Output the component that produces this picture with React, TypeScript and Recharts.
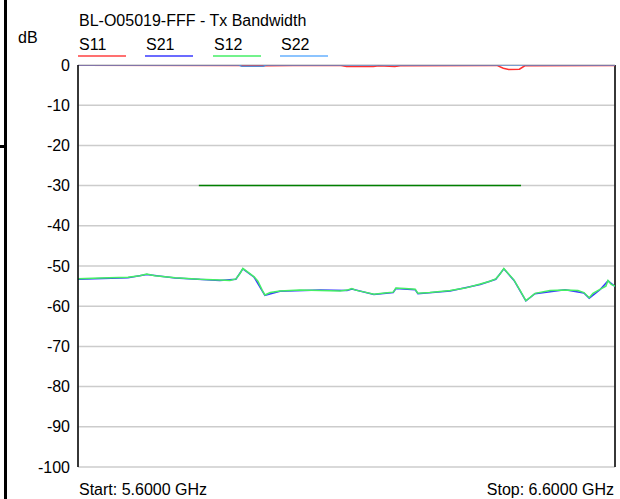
import { LineChart, Line, XAxis, YAxis, CartesianGrid, ReferenceLine } from 'recharts'

// frequency in GHz, magnitude in dB
const s12 = [
  { f: 5.6, v: -53.2 }, { f: 5.641, v: -53.0 }, { f: 5.693, v: -52.8 }, { f: 5.715, v: -52.4 },
  { f: 5.728, v: -52.0 }, { f: 5.743, v: -52.4 }, { f: 5.781, v: -52.9 }, { f: 5.827, v: -53.3 },
  { f: 5.864, v: -53.5 }, { f: 5.883, v: -53.6 }, { f: 5.894, v: -53.2 }, { f: 5.902, v: -51.8 },
  { f: 5.907, v: -50.6 }, { f: 5.917, v: -51.6 }, { f: 5.928, v: -52.7 }, { f: 5.935, v: -53.8 },
  { f: 5.943, v: -56.0 }, { f: 5.948, v: -57.2 }, { f: 5.958, v: -56.6 }, { f: 5.976, v: -56.2 },
  { f: 6.013, v: -56.0 }, { f: 6.051, v: -56.1 }, { f: 6.088, v: -56.2 }, { f: 6.101, v: -56.0 },
  { f: 6.11, v: -55.6 }, { f: 6.117, v: -56.0 }, { f: 6.134, v: -56.5 }, { f: 6.151, v: -57.0 },
  { f: 6.171, v: -56.7 }, { f: 6.187, v: -56.5 }, { f: 6.192, v: -55.5 }, { f: 6.209, v: -55.6 },
  { f: 6.228, v: -55.8 }, { f: 6.233, v: -56.8 }, { f: 6.255, v: -56.6 }, { f: 6.293, v: -56.1 },
  { f: 6.321, v: -55.5 }, { f: 6.349, v: -54.5 }, { f: 6.367, v: -53.8 }, { f: 6.378, v: -53.2 },
  { f: 6.386, v: -52.0 }, { f: 6.393, v: -50.6 }, { f: 6.402, v: -52.0 }, { f: 6.412, v: -53.5 },
  { f: 6.423, v: -56.0 }, { f: 6.434, v: -58.6 }, { f: 6.442, v: -57.8 }, { f: 6.451, v: -56.8 },
  { f: 6.479, v: -56.1 }, { f: 6.507, v: -56.0 }, { f: 6.531, v: -56.1 }, { f: 6.542, v: -56.6 },
  { f: 6.552, v: -57.9 }, { f: 6.559, v: -56.8 }, { f: 6.572, v: -55.8 }, { f: 6.583, v: -55.0 },
  { f: 6.587, v: -53.6 }, { f: 6.593, v: -54.6 }, { f: 6.6, v: -55.0 },
]

const s21 = [
  { f: 5.6, v: -53.3 }, { f: 5.693, v: -52.9 }, { f: 5.728, v: -52.1 }, { f: 5.781, v: -53.0 },
  { f: 5.864, v: -53.6 }, { f: 5.894, v: -53.3 }, { f: 5.907, v: -50.7 }, { f: 5.928, v: -52.8 },
  { f: 5.948, v: -57.3 }, { f: 5.976, v: -56.3 }, { f: 6.051, v: -56.0 }, { f: 6.101, v: -56.1 },
  { f: 6.11, v: -55.7 }, { f: 6.151, v: -57.1 }, { f: 6.187, v: -56.6 }, { f: 6.192, v: -55.6 },
  { f: 6.228, v: -55.9 }, { f: 6.233, v: -56.9 }, { f: 6.293, v: -56.2 }, { f: 6.349, v: -54.6 },
  { f: 6.378, v: -53.3 }, { f: 6.393, v: -50.7 }, { f: 6.412, v: -53.6 }, { f: 6.434, v: -58.7 },
  { f: 6.451, v: -56.9 }, { f: 6.507, v: -55.9 }, { f: 6.542, v: -56.7 }, { f: 6.552, v: -58.0 },
  { f: 6.572, v: -55.9 }, { f: 6.587, v: -53.7 }, { f: 6.6, v: -55.1 },
]

const s11 = [
  { f: 5.6, v: -0.05 }, { f: 5.9, v: -0.1 }, { f: 5.95, v: -0.2 }, { f: 6.0, v: -0.1 },
  { f: 6.09, v: -0.15 }, { f: 6.1, v: -0.4 }, { f: 6.15, v: -0.4 }, { f: 6.16, v: -0.2 },
  { f: 6.19, v: -0.4 }, { f: 6.2, v: -0.2 }, { f: 6.38, v: -0.1 }, { f: 6.392, v: -0.8 },
  { f: 6.402, v: -1.1 }, { f: 6.422, v: -1.05 }, { f: 6.432, v: -0.2 }, { f: 6.6, v: -0.1 },
]

const s22 = [
  { f: 5.6, v: 0 }, { f: 5.9, v: 0 }, { f: 5.905, v: -0.3 }, { f: 5.945, v: -0.3 },
  { f: 5.95, v: 0 }, { f: 6.6, v: 0 },
]

const limit = [{ f: 5.825, v: -30 }, { f: 6.425, v: -30 }]

const freqTicks = [5.6, 5.7, 5.8, 5.9, 6.0, 6.1, 6.2, 6.3, 6.4, 6.5, 6.6]
const dbTicks = [-100, -90, -80, -70, -60, -50, -40, -30, -20, -10, 0]

const legend = [
  { name: 'S11', color: '#ff4040', x: 78 },
  { name: 'S21', color: '#3a3aff', x: 145 },
  { name: 'S12', color: '#44ee66', x: 213 },
  { name: 'S22', color: '#66b0ff', x: 280 },
]

const font = '"Liberation Sans", Arial, sans-serif'

export default function App() {
  return (
    <div style={{ position: 'absolute', left: 0, top: 0, width: 620, height: 499, background: '#fff' }}>
      <LineChart width={620} height={499} margin={{ top: 65, right: 5, bottom: 32, left: 0 }}>
        <CartesianGrid stroke="#cccccc" strokeWidth={1.5} />
        <XAxis
          type="number"
          dataKey="f"
          domain={[5.6, 6.6]}
          ticks={freqTicks}
          tick={false}
          tickLine={false}
          height={0}
          axisLine={{ stroke: '#000', strokeWidth: 1.5 }}
          allowDataOverflow
        />
        <YAxis
          type="number"
          domain={[-100, 0]}
          ticks={dbTicks}
          width={78}
          tickLine={false}
          tickSize={6}
          tickMargin={2}
          axisLine={{ stroke: '#000', strokeWidth: 1.5 }}
          tick={{ fill: '#000', fontSize: 16, fontFamily: font }}
          allowDataOverflow
        />
        <ReferenceLine x={6.6} stroke="#000" strokeWidth={1.5} />
        <Line data={limit} dataKey="v" stroke="#008000" strokeWidth={1.5} dot={false} isAnimationActive={false} />
        <Line data={s21} dataKey="v" stroke="#3a3aff" strokeWidth={1.5} dot={false} isAnimationActive={false} />
        <Line data={s12} dataKey="v" stroke="#44ee66" strokeWidth={1.5} dot={false} isAnimationActive={false} />
        <Line data={s11} dataKey="v" stroke="#ff3030" strokeWidth={1.5} dot={false} isAnimationActive={false} />
        <Line data={s22} dataKey="v" stroke="#5a8ad0" strokeWidth={1.5} dot={false} isAnimationActive={false} />
      </LineChart>
      <svg width={620} height={499} style={{ position: 'absolute', left: 0, top: 0, pointerEvents: 'none' }}>
        <rect x={4} y={0} width={3} height={499} fill="#000" />
        <rect x={0} y={145} width={4} height={3} fill="#000" />
        <g fontFamily={font} fontSize={16} fill="#000">
          <text x={79} y={26}>BL-O05019-FFF - Tx Bandwidth</text>
          <text x={18} y={43}>dB</text>
          {legend.map((l) => (
            <g key={l.name}>
              <text x={l.x + 1} y={50}>{l.name}</text>
              <line x1={l.x} x2={l.x + 48} y1={56} y2={56} stroke={l.color} strokeWidth={1.5} />
            </g>
          ))}
          <text x={79} y={495}>Start: 5.6000 GHz</text>
          <text x={614} y={495} textAnchor="end">Stop: 6.6000 GHz</text>
        </g>
      </svg>
    </div>
  )
}
